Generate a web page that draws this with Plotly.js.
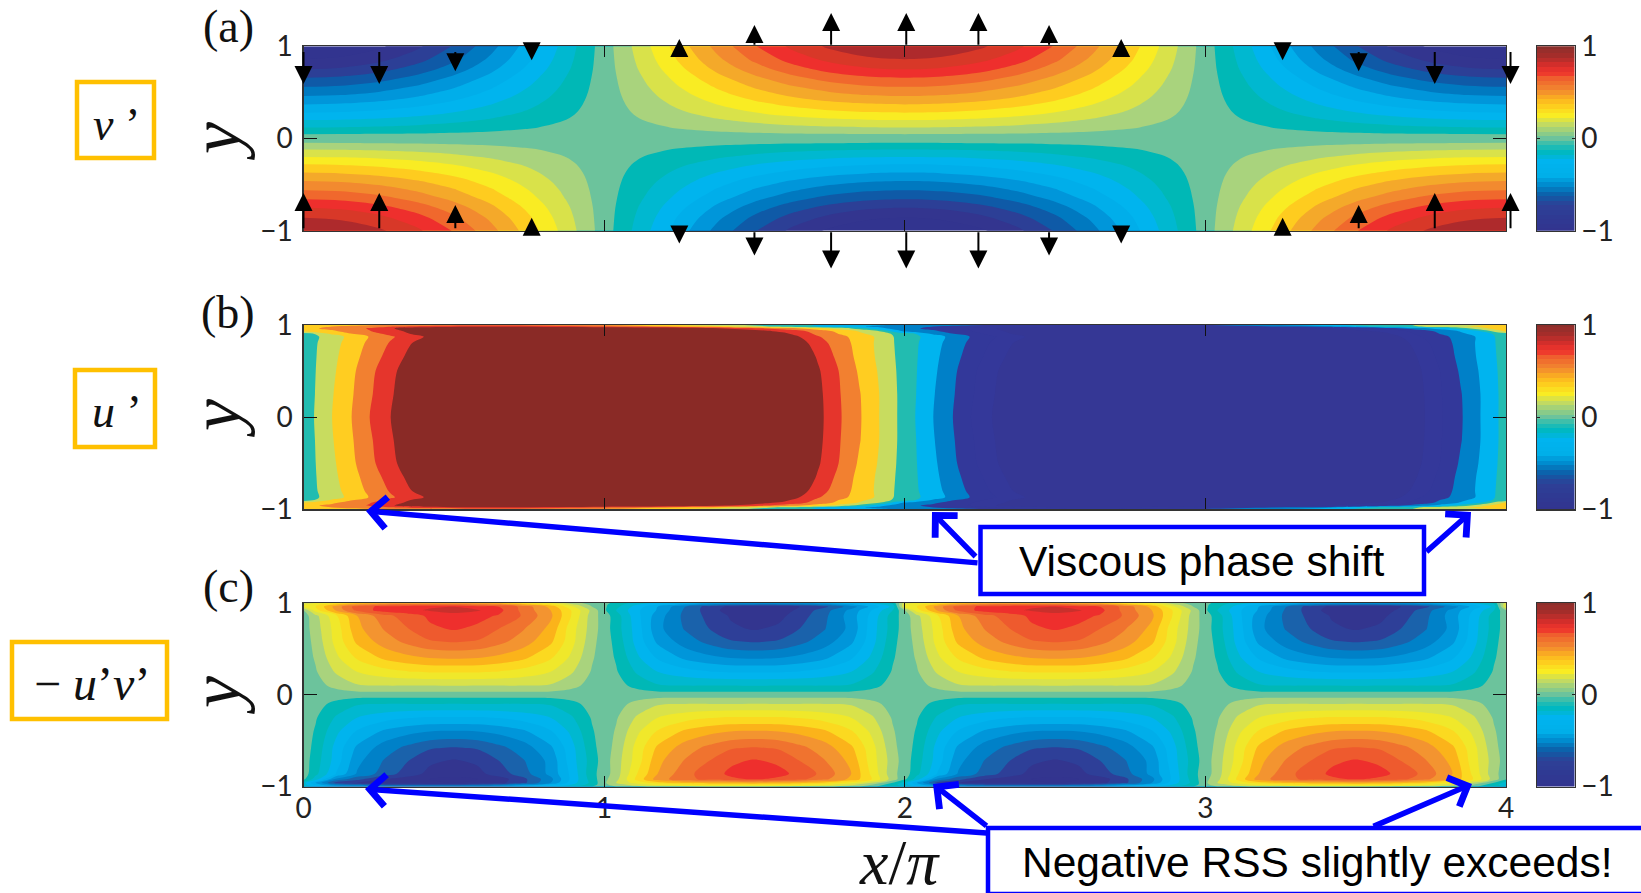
<!DOCTYPE html>
<html><head><meta charset="utf-8">
<script src="https://cdn.plot.ly/plotly-3.0.1.min.js"></script>
<style>html,body{margin:0;padding:0;background:#fff;overflow:hidden}</style>
</head><body><div id="chart" style="width:1641px;height:893px"></div>
<script>
// ---------- panel (a): v' quarter tile, |v'| on the lower half ----------
const vX = [0,.125,.25,.375,.5,.625,.75,.875,.95,1];
const vY = [0,.047,.12,.2,.28,.37,.46,.56,.66,.75,.86,1];
const vTile = [
 [0,0,0,0,0,0,0,0,0,0],
 [.05,.049,.046,.042,.035,.028,.019,.01,.004,0],
 [.15,.147,.138,.125,.106,.083,.057,.029,.012,0],
 [.25,.245,.231,.208,.177,.139,.096,.049,.02,0],
 [.35,.343,.323,.291,.247,.194,.134,.068,.027,0],
 [.45,.441,.416,.374,.318,.25,.172,.088,.035,0],
 [.55,.539,.508,.457,.389,.306,.21,.107,.043,0],
 [.65,.637,.6,.54,.46,.361,.249,.127,.051,0],
 [.75,.736,.693,.624,.53,.417,.287,.146,.059,0],
 [.85,.834,.785,.707,.601,.472,.325,.166,.067,0],
 [.95,.932,.878,.79,.672,.528,.364,.185,.074,0],
 [1.05,1.03,.97,.873,.742,.583,.402,.205,.082,0]
];
const vColors = ['#32348f','#33358f','#2c3f96','#0f5aa7','#0079c0','#0096da','#00aeea','#00b4ee','#00b8d0','#00b8b6',
 '#6cc39c','#a9d37d','#d9e24a','#f9ec23','#fecc1f','#f4a92a','#f28a2f','#f0682d','#ee2f2d','#d83828','#ae2a2c'];

// ---------- panel (b): u' half-period tile, symmetric in y ----------
const uX = [0,.035,.095,.16,.22,.29,.4,.6,1,1.4,1.6,1.71,1.78,1.85,1.915,1.975,2];
const uY = [0,.25,.5,.65,.8,.87,.9,.93,.96,.98,1];
const uTile = [
 [0,.1,.3,.5,.7,.9,1.25,1.8,2.2,1.8,1.3,.97,.73,.52,.3,.1,0],
 [0,.09,.285,.48,.67,.87,1.2,1.75,2.15,1.75,1.3,.96,.72,.51,.3,.1,0],
 [0,.083,.26,.455,.645,.84,1.15,1.7,2.1,1.7,1.3,.93,.7,.47,.28,.09,0],
 [0,.077,.245,.42,.595,.78,1.08,1.6,2,1.6,1.25,.88,.65,.44,.26,.08,0],
 [0,.07,.225,.385,.545,.72,1.0,1.45,1.8,1.45,1.15,.8,.6,.43,.25,.07,0],
 [0,.06,.2,.365,.51,.67,.9,1.3,1.6,1.35,1.05,.72,.57,.41,.26,.06,0],
 [0,.09,.33,.49,.61,.75,1.0,1.4,1.5,1.25,.95,.66,.5,.35,.2,.05,0],
 [.33,.39,.47,.57,.69,.82,1.03,1.35,1.4,1.1,.85,.62,.45,.28,.1,-.22,-.33],
 [.45,.48,.55,.62,.72,.88,1.05,1.2,1.2,.9,.6,.4,.22,.02,-.22,-.4,-.45],
 [.42,.45,.5,.56,.62,.68,.78,.85,.7,.35,.05,-.1,-.2,-.28,-.35,-.41,-.42],
 [.3,.33,.38,.42,.46,.5,.55,.6,.45,.15,-.03,-.12,-.17,-.22,-.26,-.29,-.3]
];
const uColors = ['#353795','#34389a','#33389a','#0080c8','#00b4ef','#22bcb0','#c8dc5f','#ffcd21','#f28030','#e5352c','#8a2a26'];

// ---------- panel (c): -u'v' cell tiles ----------
const rssX = [0,.04,.11,.178,.27,.35,.42,.5,.58,.65,.73,.822,.89,.96];
const rssInnerY = [0,.1,.25,.4,.58,.72];
const rssWallY = [.86,.92,.96,.98,1];
const rssInner = [
 [0,0,0,0,0,0,0,0,0,0,0,0,0,0],
 [0,.015,.08,.14,.15,.15,.15,.155,.15,.15,.15,.14,.08,.015],
 [0,.04,.165,.25,.31,.345,.36,.36,.36,.345,.31,.25,.165,.04],
 [0,.06,.23,.36,.47,.52,.55,.56,.55,.52,.47,.36,.23,.06],
 [0,.08,.29,.47,.6,.68,.74,.76,.74,.68,.6,.47,.29,.08],
 [0,.1,.3,.52,.66,.75,.83,.86,.83,.75,.66,.52,.3,.1]
];
const rssTopLeft = [
 [0,.12,.34,.55,.72,.8,.87,.92,.88,.84,.74,.57,.35,.1],
 [.05,.3,.57,.78,.9,.93,.96,.98,.96,.88,.72,.55,.35,.12],
 [.25,.35,.6,.8,.88,.92,.94,.95,.9,.85,.72,.52,.28,.05],
 [.25,.32,.5,.62,.72,.75,.75,.75,.72,.68,.55,.4,.2,.02],
 [.2,.25,.35,.45,.5,.5,.5,.5,.48,.45,.35,.25,.1,0]
];
const rssTopRight = [
 [0,-.1,-.32,-.5,-.68,-.78,-.86,-.92,-.88,-.8,-.68,-.5,-.32,-.1],
 [-.03,-.15,-.33,-.46,-.67,-.8,-.9,-.95,-.9,-.83,-.7,-.52,-.35,-.15],
 [-.03,-.12,-.3,-.45,-.65,-.8,-.87,-.9,-.88,-.85,-.78,-.6,-.42,-.22],
 [-.03,-.1,-.25,-.35,-.5,-.62,-.68,-.7,-.7,-.68,-.62,-.48,-.35,-.18],
 [-.02,-.08,-.2,-.28,-.38,-.45,-.48,-.5,-.5,-.5,-.45,-.38,-.25,-.12]
];
const rssBottomLeft = [
 [0,-.12,-.36,-.56,-.7,-.8,-.88,-.92,-.88,-.8,-.7,-.52,-.33,-.08],
 [-.03,-.2,-.58,-.72,-.85,-.9,-.95,-.97,-.95,-.9,-.78,-.58,-.33,-.1],
 [-.2,-.45,-.8,-.85,-.9,-.9,-.93,-.95,-.92,-.88,-.78,-.55,-.3,-.12],
 [-.2,-.38,-.62,-.7,-.75,-.75,-.75,-.75,-.72,-.68,-.55,-.4,-.25,-.1],
 [-.15,-.25,-.4,-.45,-.5,-.5,-.5,-.5,-.48,-.45,-.35,-.25,-.15,-.05]
];
const rssBottomRight = [
 [0,.1,.35,.55,.72,.8,.87,.91,.88,.82,.72,.55,.33,.08],
 [.02,.12,.38,.6,.72,.78,.83,.86,.83,.78,.68,.52,.35,.1],
 [.03,.15,.3,.4,.47,.5,.51,.52,.5,.48,.42,.3,.15,-.05],
 [.02,.1,.2,.28,.33,.35,.36,.36,.35,.33,.28,.18,.05,-.12],
 [0,.05,.12,.18,.22,.25,.25,.25,.24,.22,.18,.1,-.02,-.15]
];
const rssColors = ['#33348f','#33358f','#2e3f98','#1a62ab','#0081c8','#0096da','#00aeea','#00b4ee','#00b8d0','#00b8b6',
 '#6cc39c','#a9d37d','#d9e24a','#f0e82a','#fbd920','#fbb31a','#f39430','#f0732f','#ee5a2e','#ee2f2d','#c9302c'];

// ---------- colour bar ----------
const barValues = [-1,-.95,-.9,-.85,-.8,-.75,-.7,-.65,-.6,-.55,-.5,-.45,-.4,-.35,-.3,-.25,-.2,-.15,-.1,-.05,0,
 .05,.1,.15,.2,.25,.3,.35,.4,.45,.5,.55,.6,.65,.7,.75,.8,.85,.9,.95,1];
const barStops = [[-1,'#32348f'],[-.72,'#2d4097'],[-.61,'#0c5fa8'],[-.5,'#008ccf'],[-.4,'#00afe9'],[-.25,'#00b4ef'],
 [-.145,'#00b8c0'],[-.07,'#2dbdb0'],[0,'#6cc39c'],[.14,'#bcd868'],[.25,'#f9ec23'],[.34,'#fdd21e'],[.43,'#fbb21f'],
 [.52,'#f28a2f'],[.65,'#ef5f2e'],[.7,'#ee3b2c'],[.77,'#e22f2c'],[.88,'#a92d2a'],[1,'#8b2f2b']];

// ---------- wall arrows on panel (a) ----------
const arrowX   = [0,.252,.505,.759,1.25,1.5,1.755,2.005,2.245,2.48,2.72,3.257,3.51,3.763,4.015];
const arrowTop = [-.41,-.41,-.27,-.15,.08,.23,.36,.36,.36,.23,.08,-.15,-.27,-.41,-.41];
const arrowBot = [.41,.41,.28,.14,-.14,-.27,-.41,-.41,-.41,-.27,-.14,.14,.28,.41,.41];

// ---------- texts ----------
const W = 1641, H = 893;
const fx = p => p / W, fy = p => 1 - p / H;
const LEFT = 303.5, RIGHT = 1506, BAR_L = 1537, BAR_R = 1574.5;
const panels = [[46.3,230.7],[324.7,509.3],[603,786.5]];
const tickFont = {family:'Lato, "Open Sans", sans-serif', size:28, color:'#222'};
const serif = 'Liberation Serif, serif';

const levelConf = (s,e,d) => ({start:s,end:e+1e-6,size:d,coloring:'fill',showlines:false});
const scale = cols => cols.map((c,i)=>[i/(cols.length-1),c]);

// field a
function buildV(){
  const x=[]; const cols=[];
  vX.forEach((v,i)=>{x.push(v);cols.push([i,1]);});
  for(let i=vX.length-2;i>=0;i--){x.push(2-vX[i]);cols.push([i,-1]);}
  for(let i=1;i<vX.length;i++){x.push(2+vX[i]);cols.push([i,-1]);}
  for(let i=vX.length-2;i>=0;i--){x.push(4-vX[i]);cols.push([i,1]);}
  const y=[],z=[];
  for(let r=vY.length-1;r>=1;r--){y.push(-vY[r]);z.push(cols.map(([i,s])=>s*vTile[r][i]));}
  for(let r=0;r<vY.length;r++){y.push(vY[r]);z.push(cols.map(([i,s])=>-s*vTile[r][i]));}
  return {x,y,z};
}
// field b
function buildU(){
  const x=[],cols=[];
  uX.forEach((v,i)=>{x.push(v);cols.push([i,1]);});
  for(let i=1;i<uX.length;i++){x.push(2+uX[i]);cols.push([i,-1]);}
  const y=[],z=[];
  for(let r=uY.length-1;r>=1;r--){y.push(-uY[r]);z.push(cols.map(([i,s])=>s*uTile[r][i]));}
  for(let r=0;r<uY.length;r++){y.push(uY[r]);z.push(cols.map(([i,s])=>s*uTile[r][i]));}
  return {x,y,z};
}
// field c
function buildRss(){
  const x=[];
  for(let k=0;k<4;k++) rssX.forEach(v=>x.push(k+v));
  x.push(4);
  const join=(a,b)=>{const row=[...a,...b,...a,...b];row.push(a[0]);return row;};
  const neg=r=>r.map(v=>-v);
  const y=[],z=[];
  for(let r=rssWallY.length-1;r>=0;r--){y.push(-rssWallY[r]);z.push(join(rssBottomLeft[r],rssBottomRight[r]));}
  for(let r=rssInnerY.length-1;r>=1;r--){y.push(-rssInnerY[r]);z.push(join(neg(rssInner[r]),rssInner[r]));}
  for(let r=0;r<rssInnerY.length;r++){y.push(rssInnerY[r]);z.push(join(rssInner[r],neg(rssInner[r])));}
  for(let r=0;r<rssWallY.length;r++){y.push(rssWallY[r]);z.push(join(rssTopLeft[r],rssTopRight[r]));}
  return {x,y,z};
}

const contour=(f,i,conf,cols)=>({type:'contour',x:f.x,y:f.y,z:f.z,xaxis:'x'+(i?i+1:''),yaxis:'y'+(i?i+1:''),
  autocontour:false,contours:conf,colorscale:scale(cols),showscale:false,line:{width:0,smoothing:.9},hoverinfo:'skip'});

const traces=[
  contour(buildV(),0,levelConf(-.95,.95,.1),vColors),
  contour(buildU(),1,levelConf(-.9,.9,.2),uColors),
  contour(buildRss(),2,levelConf(-.95,.95,.1),rssColors)
];
const zmin=-1,zmax=1;
const barScale=barStops.map(([v,c])=>[(v-zmin)/(zmax-zmin),c]);
[0,1,2].forEach(i=>{
  traces.push({type:'heatmap',x:[0],y:barValues,z:barValues.map(v=>[v]),xaxis:'x'+(i+4),yaxis:'y'+(i+4),
    colorscale:barScale,zmin,zmax,showscale:false,hoverinfo:'skip'});
});

const layout={width:W,height:H,margin:{l:0,r:0,t:0,b:0},paper_bgcolor:'#fff',plot_bgcolor:'#fff',showlegend:false,shapes:[],annotations:[]};
panels.forEach(([t,b],i)=>{
  const n=i?i+1:'';
  layout['xaxis'+n]={domain:[fx(LEFT),fx(RIGHT)],range:[0,4],anchor:'y'+n,tickvals:[0,1,2,3,4],ticktext:['0','1','2','3','4'],
    showticklabels:i===2,ticks:'inside',ticklen:11,tickwidth:1,tickcolor:'#111',mirror:'ticks',showline:true,linecolor:'#333',linewidth:1.2,
    showgrid:false,zeroline:false,tickfont:tickFont,ticklabelstandoff:-3};
  layout['yaxis'+n]={domain:[fy(b),fy(t)],range:[-1,1],anchor:'x'+n,tickvals:[-1,0,1],ticktext:['\u22121','0','1'],
    ticks:'inside',ticklen:13,tickwidth:1,tickcolor:'#111',mirror:'ticks',showline:true,linecolor:'#333',linewidth:1.2,
    showgrid:false,zeroline:false,tickfont:tickFont,ticklabelstandoff:4};
  const m=i+4;
  layout['xaxis'+m]={domain:[fx(BAR_L),fx(BAR_R)],range:[-.5,.5],anchor:'y'+m,showticklabels:false,ticks:'',mirror:true,showline:true,linecolor:'#333',linewidth:1.2,showgrid:false,zeroline:false};
  layout['yaxis'+m]={domain:[fy(b),fy(t)],range:[-1,1],anchor:'x'+m,side:'right',tickvals:[-1,0,1],ticktext:['\u22121','0','1'],
    ticks:'inside',ticklen:3,tickwidth:1,tickcolor:'#222',mirror:'ticks',showline:true,linecolor:'#333',linewidth:1.2,showgrid:false,zeroline:false,tickfont:tickFont,ticklabelstandoff:0};
});

const note=(text,x,y,size,extra={})=>layout.annotations.push(Object.assign({xref:'paper',yref:'paper',x:fx(x),y:fy(y),text,showarrow:false,
  xanchor:'center',yanchor:'middle',font:{family:serif,size,color:'#111'}},extra));
note('(a)',228,27,46); note('(b)',228,313,46); note('(c)',228,586,46);
[142,419,696].forEach(y=>note('<i>y</i>',216,y,72,{textangle:-90}));
note('<i>v</i> \u2019',117,124,46); note('<i>u</i> \u2019',117,412,46); note('\u2212 <i>u</i>\u2019<i>v</i>\u2019',92,683,48);
note('<i>x</i>/<i>\u03c0</i>',899,862,64);
const sans={family:'Liberation Sans, Arial, sans-serif',size:42.5,color:'#000'};
note('Viscous phase shift',1202,561,42.5,{font:sans});
note('Negative RSS slightly exceeds!',1317,862,42.5,{font:sans});

const rect=(x0,y0,x1,y1,color,w)=>layout.shapes.push({type:'rect',xref:'paper',yref:'paper',x0:fx(x0),x1:fx(x1),y0:fy(y0),y1:fy(y1),line:{color,width:w},fillcolor:'rgba(255,255,255,0)'});
rect(77,82,154,158,'#ffc000',4.5); rect(75,370,155,447,'#ffc000',4.5); rect(12,642,167,719,'#ffc000',4.5);
rect(980.5,527,1424,594,'#0000ff',4.5); rect(988,828,1660,894,'#0000ff',4.5);

// black arrows (placed through panel (a)'s own scale)
const pxX = x => LEFT + x/4*(RIGHT-LEFT);
const pxY = y => panels[0][0] + (1-y)/2*(panels[0][1]-panels[0][0]);
arrowX.forEach((x,i)=>{
  [[1,arrowTop[i]],[-1,arrowBot[i]]].forEach(([wall,d])=>{
    const inward=wall*d<0;
    const tail=wall===1?(inward?.955:1):(-1+(inward?.01:0));
    layout.annotations.push({xref:'paper',yref:'paper',axref:'pixel',ayref:'pixel',x:fx(pxX(x)),y:fy(pxY(wall+d)),ax:0,ay:pxY(tail)-pxY(wall+d),text:'',showarrow:true,
      arrowhead:2,arrowsize:1.8,arrowwidth:2,arrowcolor:'#000',standoff:0,startstandoff:0});
  });
});

// blue arrows: [tipX, tipY, tailX, tailY]
const blueArrows=[[366,511,979,563],[932,512,977,558],[1471,512,1425,553],
                  [365,789,988,833],[933,784,988,827],[1472,784,1372,827]];
blueArrows.forEach(([x,y,tx,ty])=>layout.annotations.push({xref:'paper',yref:'paper',x:fx(x),y:fy(y),axref:'pixel',ayref:'pixel',ax:tx-x,ay:ty-y,
  text:'',showarrow:true,arrowhead:4,arrowsize:1.1,arrowwidth:5.5,arrowcolor:'#0000ff',standoff:0}));

Plotly.newPlot('chart',traces,layout,{staticPlot:true,displayModeBar:false});
</script></body></html>
